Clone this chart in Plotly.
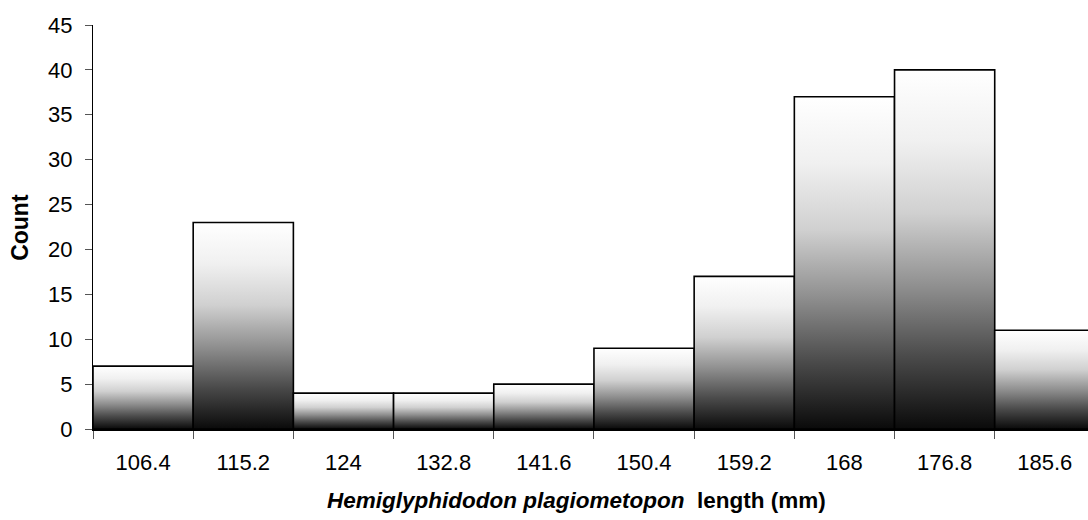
import plotly.graph_objects as go

# Histogram of fish lengths: bin centres (as labelled) and counts per bin
bin_labels = ["106.4", "115.2", "124", "132.8", "141.6", "150.4", "159.2", "168", "176.8", "185.6"]
bin_centres = [106.4, 115.2, 124.0, 132.8, 141.6, 150.4, 159.2, 168.0, 176.8, 185.6]
counts = [7, 23, 4, 4, 5, 9, 17, 37, 40, 11]
bin_width = 8.8

y_ticks = list(range(0, 50, 5))

FONT = "Liberation Sans, Arial, sans-serif"

# white-at-top to black-at-bottom shading inside each bar
shade = [
    [0.0, "#0a0a0a"],
    [0.2, "#4a4a4a"],
    [0.4, "#909090"],
    [0.6, "#d0d0d0"],
    [0.8, "#f0f0f0"],
    [1.0, "#ffffff"],
]

fig = go.Figure()

edges = []
for c, n in zip(bin_centres, counts):
    lo = round(c - bin_width / 2, 4)
    hi = round(c + bin_width / 2, 4)
    edges.append(lo)
    fig.add_trace(go.Scatter(
        x=[lo, lo, hi, hi, lo],
        y=[0, n, n, 0, 0],
        mode="lines",
        fill="toself",
        fillgradient=dict(type="vertical", colorscale=shade),
        line=dict(color="black", width=1.6),
        hoverinfo="skip",
        showlegend=False,
    ))
edges.append(round(bin_centres[-1] + bin_width / 2, 4))

x_lo = edges[0]
x_hi = edges[0] + 9.931 * bin_width

fig.update_layout(
    width=1088,
    height=520,
    margin=dict(l=93, r=0, t=25, b=91),
    paper_bgcolor="white",
    plot_bgcolor="white",
    font=dict(family=FONT, size=22, color="black"),
    xaxis=dict(
        range=[x_lo, x_hi],
        tickmode="array",
        tickvals=bin_centres,
        ticktext=bin_labels,
        ticks="",
        ticklabelstandoff=13,
        showline=True,
        linecolor="black",
        linewidth=1.5,
        showgrid=False,
        zeroline=False,
        minor=dict(
            tickmode="array",
            tickvals=edges,
            ticks="outside",
            ticklen=8,
            tickcolor="#555",
            tickwidth=1,
            showgrid=False,
        ),
        tickfont=dict(size=22),
    ),
    yaxis=dict(
        range=[0, 45],
        tickmode="array",
        tickvals=y_ticks,
        ticks="outside",
        ticklen=7,
        tickcolor="#555",
        tickwidth=1,
        ticklabelstandoff=8,
        showline=True,
        linecolor="black",
        linewidth=1.2,
        showgrid=False,
        zeroline=False,
        tickfont=dict(size=22),
    ),
)

fig.add_annotation(
    text="<b>Count</b>",
    textangle=-90,
    xref="paper", yref="paper",
    x=-0.0735, y=0.5,
    xanchor="center", yanchor="middle",
    showarrow=False,
    font=dict(family=FONT, size=23, color="black"),
)

fig.add_annotation(
    text="<b><i>Hemiglyphidodon plagiometopon</i>&nbsp; length (mm)</b>",
    xref="paper", yref="paper",
    x=0.486, y=-0.176,
    xanchor="center", yanchor="middle",
    showarrow=False,
    font=dict(family=FONT, size=22.5, color="black"),
)

fig.write_html("out.html")
